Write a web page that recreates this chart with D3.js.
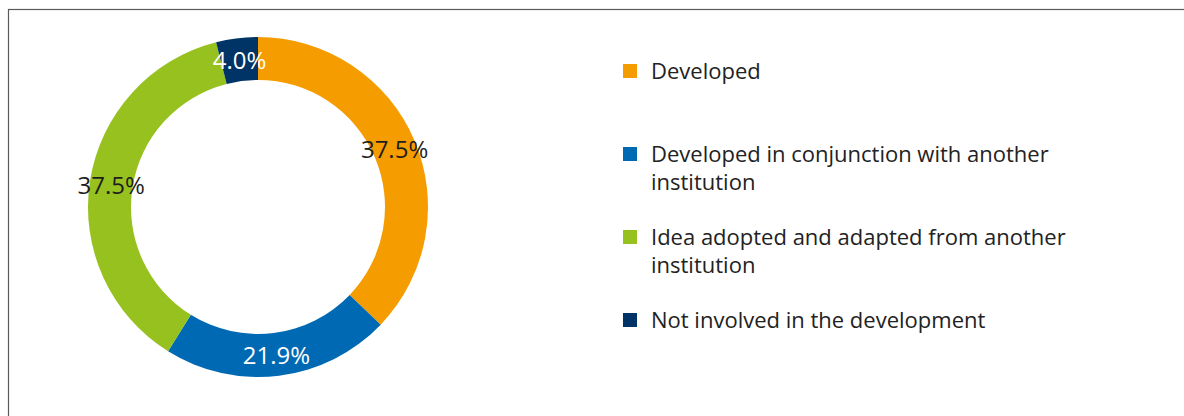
<!DOCTYPE html>
<html>
<head>
<meta charset="utf-8">
<script src="https://cdnjs.cloudflare.com/ajax/libs/d3/7.8.5/d3.min.js"></script>
<style>
	body { margin: 0; background: #fff; }
	svg { display: block; font-family: "Open Sans", sans-serif; }
	.frame { fill: none; stroke: #5a5a5a; stroke-width: 1.2; }
	.sliceLabel { font-size: 24px; text-anchor: middle; dominant-baseline: central; }
	.legendText { font-size: 22px; fill: #222; }
</style>
</head>
<body>
<div class="chart"></div>
<script>
var categories = [
	"Developed",
	"Developed in conjunction with another institution",
	"Idea adopted and adapted from another institution",
	"Not involved in the development"
],
values = [37.5, 21.9, 37.5, 4.0],
valueLabels = ["37.5%", "21.9%", "37.5%", "4.0%"],
legendLines = [
	["Developed"],
	["Developed in conjunction with another", "institution"],
	["Idea adopted and adapted from another", "institution"],
	["Not involved in the development"]
],
colours = ["#f59c00", "#0069b4", "#96c11f", "#003366"],
labelColours = ["#1e1e1e", "#ffffff", "#1e1e1e", "#ffffff"];

function buildDonut() {

	var width = 1184,
	height = 416,
	cx = 258,
	cy = 207,
	outer = 170,
	inner = 127;

	var chart = d3.select("div.chart")
		.append("svg")
		.attr("width", width)
		.attr("height", height);

	// frame only shows on top and left, the rest is cropped
	chart.append("rect")
		.attr("x", 8.5)
		.attr("y", 9.5)
		.attr("width", width + 20)
		.attr("height", height + 20)
		.attr("class", "frame");

	var data = values.map(function(v, i) {
		return { name: categories[i], value: v, label: valueLabels[i], i: i };
	});

	var pie = d3.pie()
		.value(function(d) { return d.value; })
		.sort(null);

	var arc = d3.arc()
		.innerRadius(inner)
		.outerRadius(outer);

	var donutLayer = chart.append("g")
		.attr("transform", "translate(" + cx + "," + cy + ")");

	var arcs = pie(data);

	donutLayer.selectAll(".slice")
		.data(arcs)
		.enter().append("path")
		.attr("d", arc)
		.attr("fill", function(d) { return colours[d.data.i]; })
		.attr("class", "slice");

	donutLayer.selectAll(".sliceLabel")
		.data(arcs)
		.enter().append("text")
		.attr("x", function(d) { return arc.centroid(d)[0]; })
		.attr("y", function(d) { return arc.centroid(d)[1]; })
		.attr("fill", function(d) { return labelColours[d.data.i]; })
		.attr("class", "sliceLabel")
		.text(function(d) { return d.data.label; });

	var legendY = d3.scaleLinear()
		.domain([0, 3])
		.range([71, 320]);

	var legend = chart.append("g");

	var items = legend.selectAll(".legendItem")
		.data(data)
		.enter().append("g")
		.attr("class", "legendItem")
		.attr("transform", function(d) { return "translate(623," + legendY(d.i) + ")"; });

	items.append("rect")
		.attr("x", 0)
		.attr("y", -7)
		.attr("width", 14)
		.attr("height", 14)
		.attr("fill", function(d) { return colours[d.i]; });

	items.append("text")
		.attr("class", "legendText")
		.selectAll("tspan")
		.data(function(d) { return legendLines[d.i]; })
		.enter().append("tspan")
		.attr("x", 28)
		.attr("y", function(d, j) { return 8 + j * 28; })
		.text(function(d) { return d; });
}

buildDonut();
</script>
</body>
</html>
